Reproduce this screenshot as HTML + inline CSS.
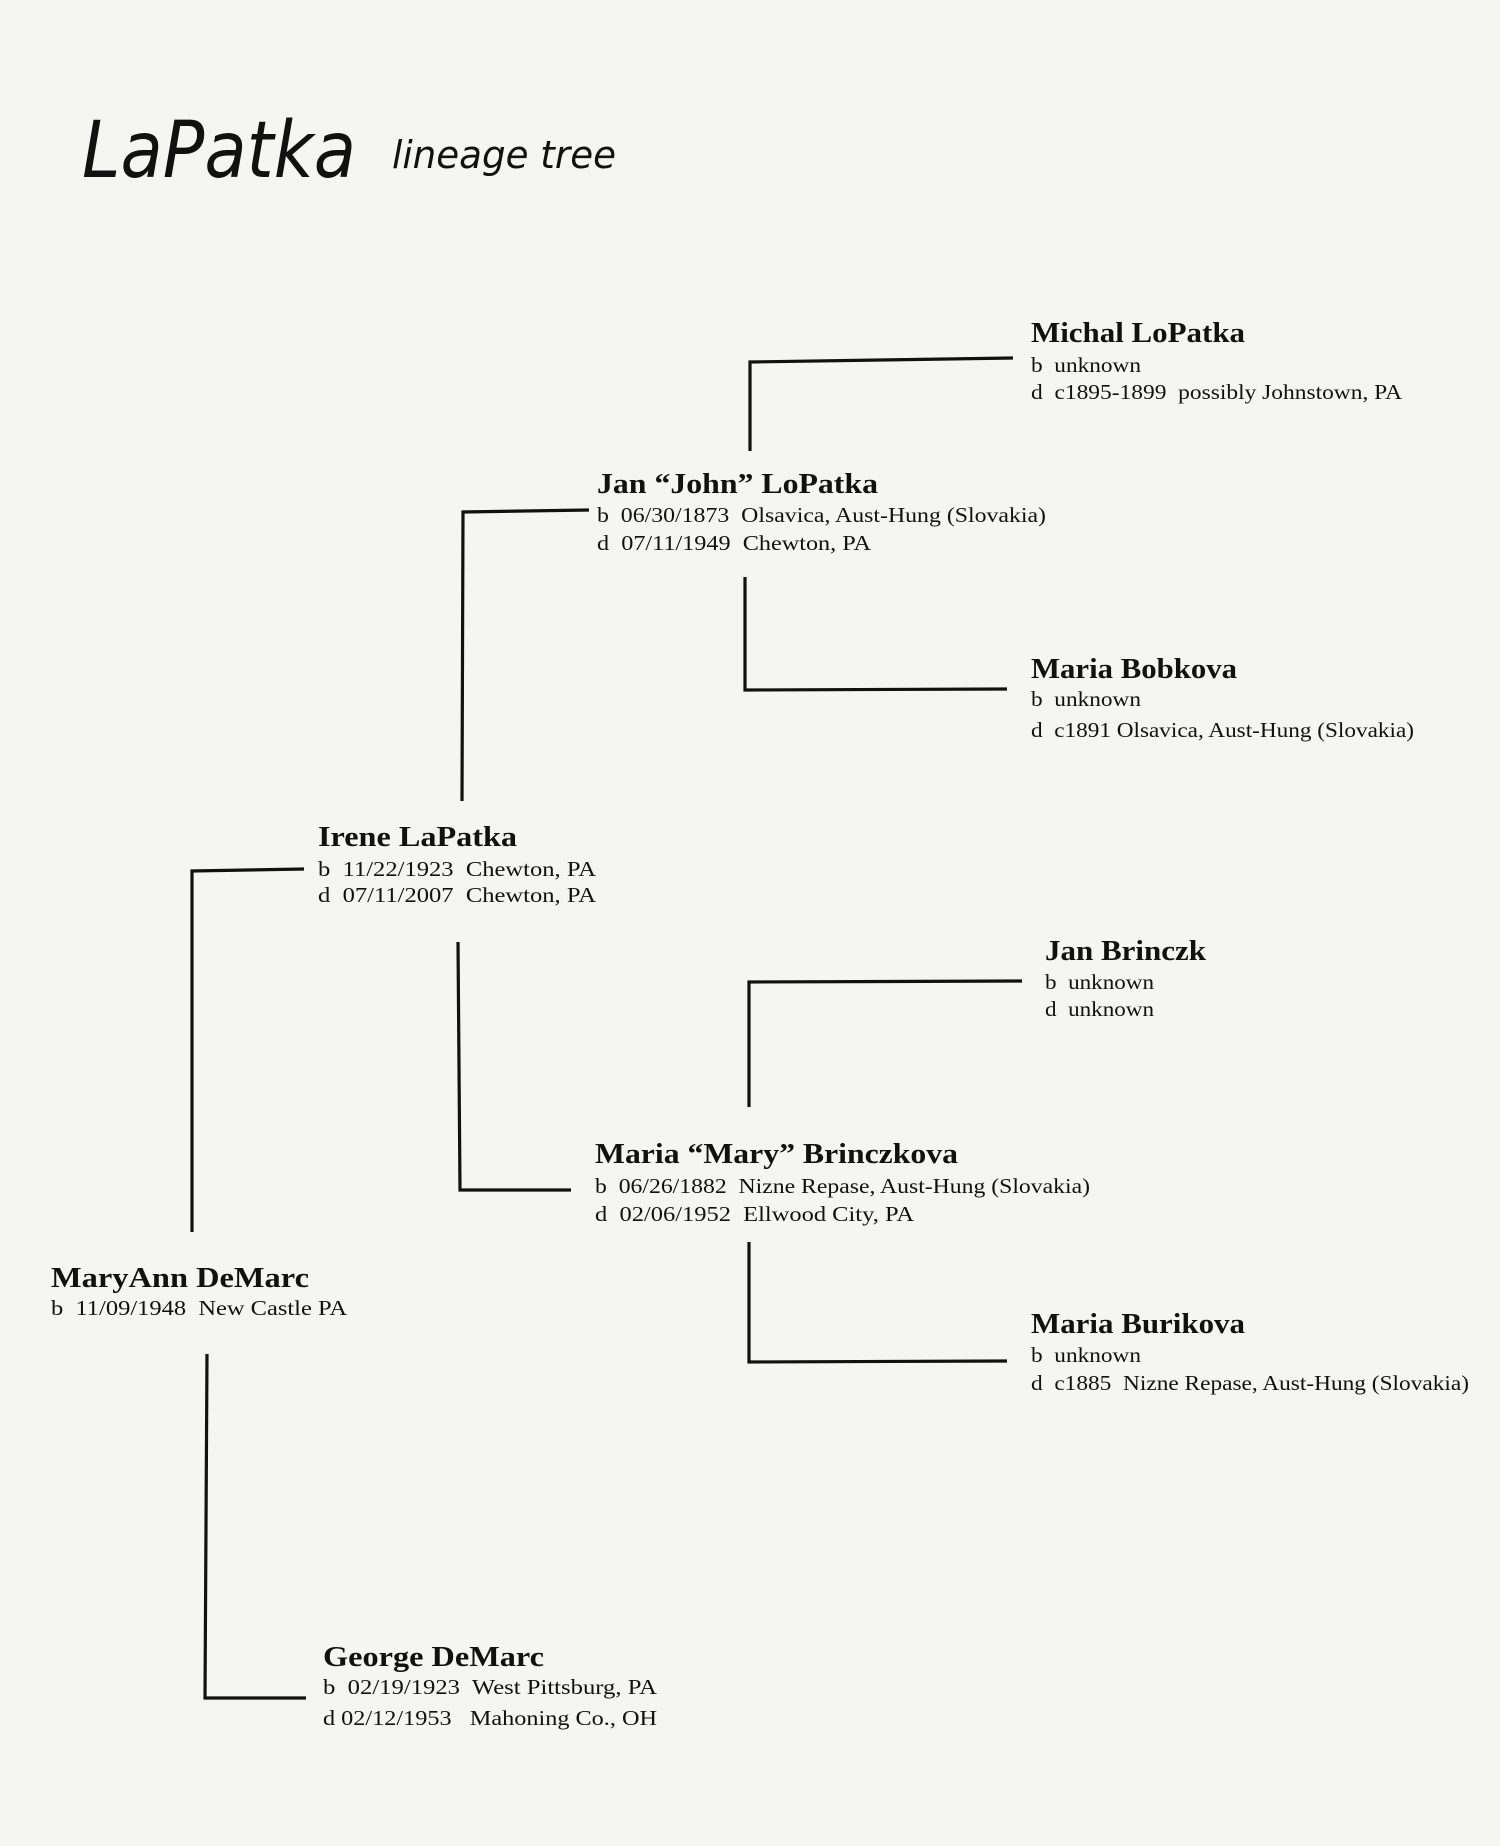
<!DOCTYPE html>
<html><head><meta charset="utf-8"><style>
html,body{margin:0;padding:0;background:#f5f5f3;}
svg{display:block}
text{white-space:pre}
.n{font-family:"Liberation Serif",serif;font-weight:bold;font-size:28px;fill:#111}
.d{font-family:"Liberation Serif",serif;font-size:21px;fill:#111}
.t{font-family:"DejaVu Sans","Liberation Sans",sans-serif;font-style:italic;fill:#111}
line,polyline{stroke:#111;stroke-width:3.2;fill:none}
</style></head><body>
<svg width="1500" height="1846" viewBox="0 0 1500 1846" xmlns="http://www.w3.org/2000/svg" xml:space="preserve">
<rect width="1500" height="1846" fill="#f5f5f3"/>
<text class="t" x="82" y="177" font-size="78" textLength="274" lengthAdjust="spacingAndGlyphs">LaPatka</text>
<text class="t" x="392" y="168" font-size="38" textLength="224" lengthAdjust="spacingAndGlyphs">lineage tree</text>

<polyline points="750,451 750,362 880,360 1013,358"/>
<polyline points="462,801 463,512 589,510"/>
<polyline points="745,577 745,690 1007,689"/>
<polyline points="192,1232 192,871 304,869"/>
<polyline points="458,942 460,1190 571,1190"/>
<polyline points="749,1107 749,982 1022,981"/>
<polyline points="749,1242 749,1362 1007,1361"/>
<polyline points="207,1354 205,1698 306,1698"/>

<text class="n" x="1031" y="342" textLength="214" lengthAdjust="spacingAndGlyphs">Michal LoPatka</text>
<text class="d" x="1031" y="372" textLength="110" lengthAdjust="spacingAndGlyphs">b  unknown</text>
<text class="d" x="1031" y="399" textLength="371" lengthAdjust="spacingAndGlyphs">d  c1895-1899  possibly Johnstown, PA</text>

<text class="n" x="597" y="493" textLength="281" lengthAdjust="spacingAndGlyphs">Jan “John” LoPatka</text>
<text class="d" x="597" y="522" textLength="449" lengthAdjust="spacingAndGlyphs">b  06/30/1873  Olsavica, Aust-Hung (Slovakia)</text>
<text class="d" x="597" y="550" textLength="274" lengthAdjust="spacingAndGlyphs">d  07/11/1949  Chewton, PA</text>

<text class="n" x="1031" y="678" textLength="206" lengthAdjust="spacingAndGlyphs">Maria Bobkova</text>
<text class="d" x="1031" y="706" textLength="110" lengthAdjust="spacingAndGlyphs">b  unknown</text>
<text class="d" x="1031" y="737" textLength="383" lengthAdjust="spacingAndGlyphs">d  c1891 Olsavica, Aust-Hung (Slovakia)</text>

<text class="n" x="318" y="846" textLength="199" lengthAdjust="spacingAndGlyphs">Irene LaPatka</text>
<text class="d" x="318" y="876" textLength="278" lengthAdjust="spacingAndGlyphs">b  11/22/1923  Chewton, PA</text>
<text class="d" x="318" y="902" textLength="278" lengthAdjust="spacingAndGlyphs">d  07/11/2007  Chewton, PA</text>

<text class="n" x="1045" y="960" textLength="161" lengthAdjust="spacingAndGlyphs">Jan Brinczk</text>
<text class="d" x="1045" y="989" textLength="109" lengthAdjust="spacingAndGlyphs">b  unknown</text>
<text class="d" x="1045" y="1016" textLength="109" lengthAdjust="spacingAndGlyphs">d  unknown</text>

<text class="n" x="595" y="1163" textLength="363" lengthAdjust="spacingAndGlyphs">Maria “Mary” Brinczkova</text>
<text class="d" x="595" y="1193" textLength="495" lengthAdjust="spacingAndGlyphs">b  06/26/1882  Nizne Repase, Aust-Hung (Slovakia)</text>
<text class="d" x="595" y="1221" textLength="319" lengthAdjust="spacingAndGlyphs">d  02/06/1952  Ellwood City, PA</text>

<text class="n" x="1031" y="1333" textLength="214" lengthAdjust="spacingAndGlyphs">Maria Burikova</text>
<text class="d" x="1031" y="1362" textLength="110" lengthAdjust="spacingAndGlyphs">b  unknown</text>
<text class="d" x="1031" y="1390" textLength="438" lengthAdjust="spacingAndGlyphs">d  c1885  Nizne Repase, Aust-Hung (Slovakia)</text>

<text class="n" x="51" y="1287" textLength="258" lengthAdjust="spacingAndGlyphs">MaryAnn DeMarc</text>
<text class="d" x="51" y="1315" textLength="296" lengthAdjust="spacingAndGlyphs">b  11/09/1948  New Castle PA</text>

<text class="n" x="323" y="1666" textLength="221" lengthAdjust="spacingAndGlyphs">George DeMarc</text>
<text class="d" x="323" y="1694" textLength="334" lengthAdjust="spacingAndGlyphs">b  02/19/1923  West Pittsburg, PA</text>
<text class="d" x="323" y="1725" textLength="334" lengthAdjust="spacingAndGlyphs">d 02/12/1953   Mahoning Co., OH</text>
</svg>
</body></html>
